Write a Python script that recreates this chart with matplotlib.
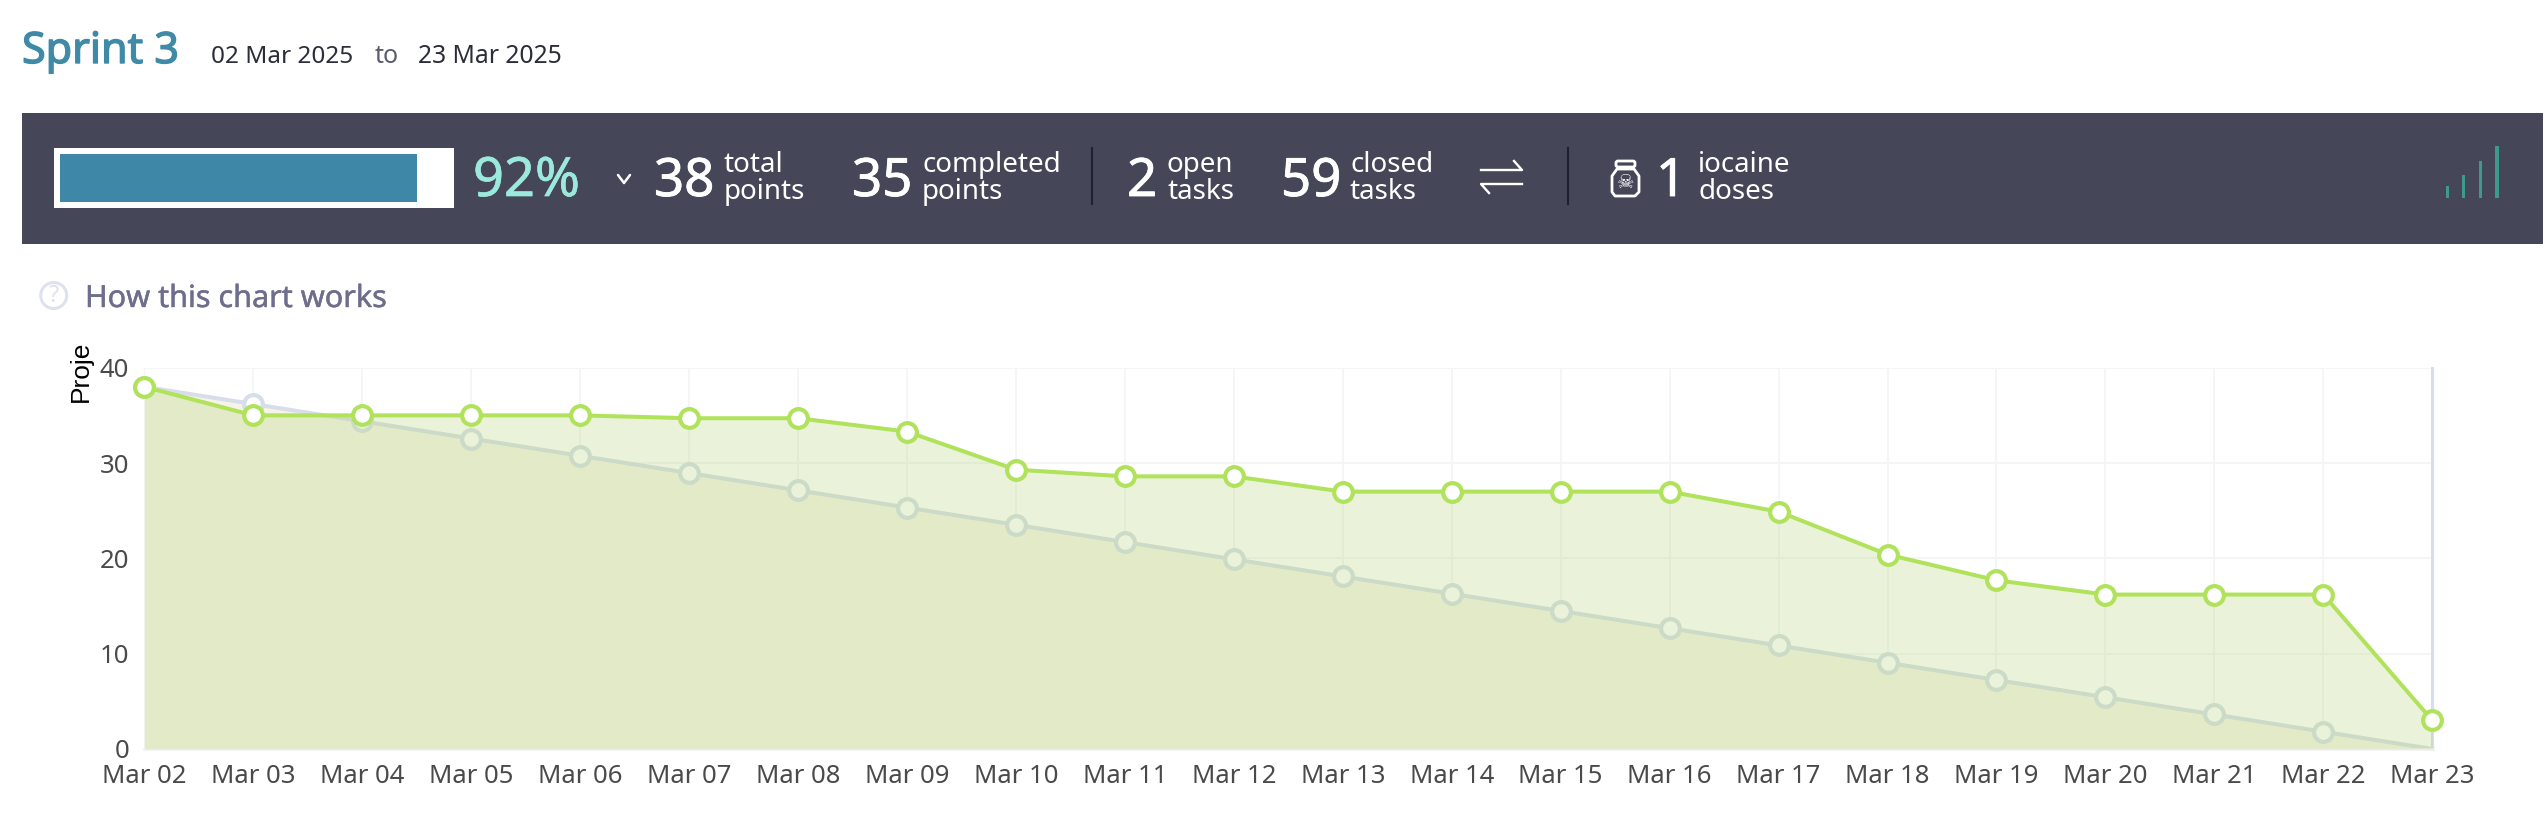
import matplotlib
matplotlib.use("Agg")
import matplotlib.pyplot as plt
import matplotlib.patheffects as pe
from matplotlib.patches import Rectangle, Circle, FancyBboxPatch, Polygon

W, H = 2546, 818
FONT = "Noto Sans"

days = ["Mar 02","Mar 03","Mar 04","Mar 05","Mar 06","Mar 07","Mar 08","Mar 09","Mar 10","Mar 11","Mar 12",
        "Mar 13","Mar 14","Mar 15","Mar 16","Mar 17","Mar 18","Mar 19","Mar 20","Mar 21","Mar 22","Mar 23"]
ideal = [38, 36.19, 34.38, 32.57, 30.76, 28.95, 27.14, 25.33, 23.52, 21.71, 19.9,
         18.1, 16.29, 14.48, 12.67, 10.86, 9.05, 7.24, 5.43, 3.62, 1.81, 0]
real = [38, 35, 35, 35, 35, 34.7, 34.7, 33.3, 29.3, 28.6, 28.6,
        27, 27, 27, 27, 24.9, 20.4, 17.7, 16.2, 16.2, 16.2, 3]
y_ticks = [0, 10, 20, 30, 40]
progress_pct = [92]
spark_values = [12, 23, 37, 52]

fig = plt.figure(figsize=(W/100, H/100), dpi=100, facecolor="white")

def box(l, t, r, b):
    return [l/W, 1-b/H, (r-l)/W, (b-t)/H]

# overlay in pixel coordinates for the header furniture
ov = fig.add_axes([0, 0, 1, 1], zorder=1)
ov.set_xlim(0, W); ov.set_ylim(H, 0); ov.axis("off")

def T(x, y, s, size, color="white", ha="left", va="baseline", heavy=0, **kw):
    kw.setdefault("family", FONT)
    t = ov.text(x, y, s, fontsize=size, color=color, ha=ha, va=va, **kw)
    if heavy:
        t.set_path_effects([pe.withStroke(linewidth=heavy, foreground=color)])
    return t

PANEL = "#454657"
ov.add_patch(Rectangle((22, 113), 2521, 130.5, fc=PANEL, ec="none"))
ov.add_patch(Rectangle((54, 148), 400, 60, fc="white", ec="none"))

# title row
T(22, 63, "Sprint 3", 31, "#3f8aa7", heavy=1.0)
T(211, 63, "02 Mar 2025", 17.5, "#2c2d3a")
T(375, 63, "to", 18, "#5a5b6e")
T(418, 63, "23 Mar 2025", 17.8, "#2c2d3a")

# stats
T(473, 196, "92%", 39, "#9be8dc", heavy=0.5)
ov.plot([618, 624, 630], [175, 183, 175], color="white", lw=1.8, solid_capstyle="round")
for x, big, x2, l1, l2 in [(654, "38", 724, "total", "points"),
                           (852, "35", 922, "completed", "points"),
                           (1127, "2", 1167, "open", "tasks"),
                           (1281, "59", 1350, "closed", "tasks"),
                           (1656, "1", 1698, "iocaine", "doses")]:
    T(x, 196, big, 38, heavy=0.6)
    T(x2, 172, l1, 20)
    T(x2, 199, l2, 20)
for x in (1092, 1568):
    ov.plot([x, x], [148, 204], color="#1f2030", lw=1.5)

# swap arrows
ov.plot([1481, 1522, 1514], [170, 170, 161], color="white", lw=1.7)
ov.plot([1522, 1481, 1489], [184, 184, 193], color="white", lw=1.7)

# bottle icon
ov.add_patch(Polygon([(1617, 169), (1634, 169), (1639, 176), (1639, 192), (1635, 196),
                      (1615, 196), (1612, 192), (1612, 176)], closed=True,
                     fc="none", ec="white", lw=2, joinstyle="round"))
ov.add_patch(FancyBboxPatch((1616, 161), 19, 6, boxstyle="round,pad=0,rounding_size=2",
                            fc="none", ec="white", lw=2))
ov.text(1625.5, 183, "\u2620", fontsize=14, color="white", ha="center", va="center", family="DejaVu Sans")

# help row
ov.add_patch(Circle((53.7, 295.5), 13, fc="white", ec="#dfe2ee", lw=2.2))
ov.text(53.7, 295.5, "?", fontsize=17, color="#dfe2ee", ha="center", va="center", family=FONT)
T(85, 307, "How this chart works", 22, "#6e6e8c", heavy=0.3)

# progress bar
bar = fig.add_axes(box(60, 154, 448, 202), zorder=2)
bar.barh([0], progress_pct, height=1, color="#3e87a6", align="center")
bar.set_xlim(0, 100); bar.set_ylim(-0.5, 0.5); bar.axis("off")

# sparkline
sp = fig.add_axes(box(2445.5, 146, 2499.5, 198), zorder=2)
sp.bar(range(len(spark_values)), spark_values, width=0.2, color="#3f9a8c")
sp.set_xlim(-0.1, 3.15); sp.set_ylim(0, 52); sp.axis("off")

# chart
ax = fig.add_axes(box(144.3, 367.7, 2432.3, 749), zorder=3)
ax.patch.set_alpha(0)
xs = list(range(len(days)))
for s in ("top", "left"):
    ax.spines[s].set_visible(False)
ax.spines["bottom"].set_color("#f3f3f6"); ax.spines["bottom"].set_linewidth(2)
ax.spines["right"].set_color("#d8dee9"); ax.spines["right"].set_linewidth(2.2)
ax.set_xlim(0, 21); ax.set_ylim(0, 40)
ax.set_xticks(xs, days); ax.set_yticks(y_ticks)
ax.tick_params(length=0, labelsize=18.5, labelcolor="#4a4a4a", pad=11)
ax.tick_params(axis="x", pad=11)
for lab in ax.get_xticklabels() + ax.get_yticklabels():
    lab.set_family(FONT)
ax.grid(True, color="#f5f5f8", lw=1.3, zorder=0)
ax.set_axisbelow(True)

IDEAL = "#d8dee9"; GREEN = "#b1e25c"
ax.fill_between(xs, ideal, 0, color="#f6f3e8", lw=0, zorder=1)
ax.plot(xs, ideal, color=IDEAL, lw=2.9, marker="o", ms=13.5, mfc="white", mec=IDEAL, mew=3,
        markevery=list(range(len(days) - 1)), zorder=2, clip_on=False)
ax.fill_between(xs, real, 0, color="#a9d060", alpha=0.24, lw=0, zorder=3)
ax.plot(xs, real, color=GREEN, lw=2.9, marker="o", ms=13.5, mfc="white", mec=GREEN, mew=3,
        zorder=4, clip_on=False)

ov.text(88, 402, "Proje", fontsize=19, color="black", rotation=90, ha="left", va="baseline",
        family="Liberation Sans", rotation_mode="anchor")

fig.savefig("out.png", dpi=100, facecolor="white")
